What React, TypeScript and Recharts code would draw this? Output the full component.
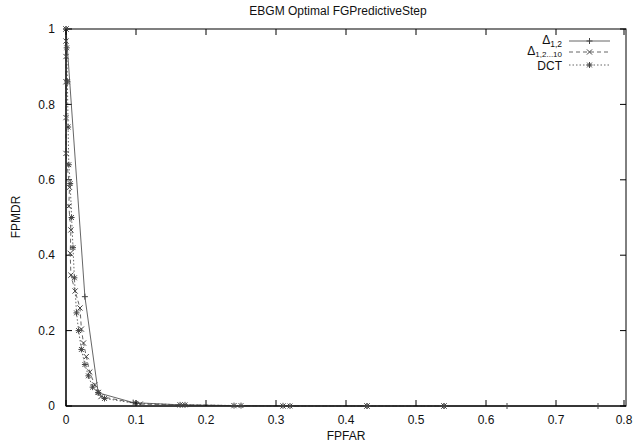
import React from 'react';
import { LineChart, Line, XAxis, YAxis, Customized } from 'recharts';

const xTicks = [0, 0.1, 0.2, 0.3, 0.4, 0.5, 0.6, 0.7, 0.8];
const yTicks = [0, 0.2, 0.4, 0.6, 0.8, 1];

const d12X = [0, 0.027, 0.046, 0.096, 0.163, 0.24, 0.31, 0.43, 0.54, 0.63, 0.76];
const d12Y = [1, 0.29, 0.035, 0.009, 0.003, 0.001, 0.0005, 0, 0, 0, 0];

const d1210X = [0, 0, 0, 0, 0, 0, 0.005, 0.004, 0.007, 0.006, 0.007, 0.013, 0.02, 0.022, 0.025, 0.029, 0.034, 0.041, 0.046, 0.05, 0.106, 0.163, 0.24, 0.31, 0.43, 0.54];
const d1210Y = [1, 0.968, 0.927, 0.86, 0.765, 0.67, 0.58, 0.53, 0.467, 0.405, 0.347, 0.305, 0.26, 0.204, 0.167, 0.131, 0.09, 0.056, 0.036, 0.025, 0.005, 0.003, 0.001, 0, 0, 0];

const dctX = [0, 0.001, 0.002, 0.003, 0.004, 0.006, 0.008, 0.01, 0.012, 0.015, 0.018, 0.022, 0.027, 0.032, 0.038, 0.046, 0.055, 0.1, 0.17, 0.25, 0.32, 0.43, 0.54];
const dctY = [1, 0.95, 0.86, 0.74, 0.64, 0.59, 0.5, 0.42, 0.34, 0.247, 0.2, 0.15, 0.11, 0.08, 0.05, 0.036, 0.02, 0.007, 0.003, 0.001, 0, 0, 0];

const zip = (xs: number[], ys: number[]) => xs.map((x, i) => ({ x, y: ys[i] }));
const d12 = zip(d12X, d12Y);
const d1210 = zip(d1210X, d1210Y);
const dct = zip(dctX, dctY);

const FONT = '"Liberation Sans", Arial, sans-serif';
const LINE = '#555';
const MARK = '#444';
const AXC = '#000';

// plot frame (layout constants)
const PL = 66, PR = 626, PT = 29, PB = 406;

const Plus = ({ cx, cy, s = 3 }: any) => (
  <path d={`M${cx - s},${cy}H${cx + s}M${cx},${cy - s}V${cy + s}`} stroke={MARK} strokeWidth={1} fill="none" />
);
const Cross = ({ cx, cy, s = 2.6 }: any) => (
  <path d={`M${cx - s},${cy - s}L${cx + s},${cy + s}M${cx - s},${cy + s}L${cx + s},${cy - s}`} stroke={MARK} strokeWidth={1} fill="none" />
);
const Star = ({ cx, cy }: any) => (
  <g>
    <Plus cx={cx} cy={cy} s={3} />
    <Cross cx={cx} cy={cy} s={2.4} />
  </g>
);

const mk = (C: any) => (p: any) => {
  if (p.cx == null || p.cy == null) return <g key={p.index} />;
  return <C key={p.index} cx={p.cx} cy={p.cy} />;
};

const XTick = (p: any) => (
  <g>
    <line x1={p.x} x2={p.x} y1={PB} y2={PB - 6} stroke={AXC} strokeWidth={1} />
    <line x1={p.x} x2={p.x} y1={PT} y2={PT + 6} stroke={AXC} strokeWidth={1} />
    <text x={p.x} y={PB + 18} textAnchor="middle" fontFamily={FONT} fontSize={12} fill="#111">{String(p.payload.value)}</text>
  </g>
);

const Frame = () => (
  <g>
    <rect x={PL} y={PT} width={PR - PL} height={PB - PT} fill="none" stroke={AXC} strokeWidth={1} />
    {yTicks.map((v) => {
      const y = PB - (v / 1) * (PB - PT);
      return (
        <g key={v}>
          <line x1={PL} x2={PL + 6} y1={y} y2={y} stroke={AXC} strokeWidth={1} />
          <line x1={PR} x2={PR - 6} y1={y} y2={y} stroke={AXC} strokeWidth={1} />
        </g>
      );
    })}
  </g>
);

const LegendBox = () => (
  <svg width={190} height={48} style={{ position: 'absolute', left: 440, top: 30, overflow: 'visible' }}>
    <g fontFamily={FONT} fontSize={12} fill="#111">
      <text x={122} y={14} textAnchor="end">
        <tspan>Δ</tspan>
        <tspan dy={3} fontSize={8.5}>1,2</tspan>
      </text>
      <line x1={129} x2={170} y1={11} y2={11} stroke={LINE} strokeWidth={0.9} />
      <Plus cx={149.5} cy={11} />
      <text x={122} y={25} textAnchor="end">
        <tspan>Δ</tspan>
        <tspan dy={2} fontSize={8}>1,2...10</tspan>
      </text>
      <line x1={129} x2={170} y1={22} y2={22} stroke={LINE} strokeWidth={0.9} strokeDasharray="4 3" />
      <Cross cx={149.5} cy={22} />
      <text x={122} y={40} textAnchor="end">DCT</text>
      <line x1={129} x2={170} y1={35} y2={35} stroke={LINE} strokeWidth={0.9} strokeDasharray="1.5 2" />
      <Star cx={149.5} cy={35} />
    </g>
  </svg>
);

const Labels = () => (
  <g fontFamily={FONT} fontSize={12} fill="#111">
    <text x={17} y={217} transform="rotate(-90 17 217)" textAnchor="middle" dominantBaseline="middle">FPMDR</text>
    <text x={346} y={437} textAnchor="middle" dominantBaseline="middle">FPFAR</text>
  </g>
);

export default function App() {
  return (
    <div style={{ position: 'absolute', left: 0, top: 0, width: 634, height: 448, background: '#fff' }}>
      <LineChart width={634} height={448} margin={{ top: 29, right: 8, left: 0, bottom: 0 }}>
        <XAxis
          type="number"
          dataKey="x"
          domain={[0, 0.8]}
          ticks={xTicks}
          height={42}
          tickLine={false}
          tick={<XTick />}
          axisLine={{ stroke: '#000' }}
        />
        <YAxis
          type="number"
          dataKey="y"
          domain={[0, 1]}
          ticks={yTicks}
          width={66}
          tickLine={false}
          tickMargin={5}
          tick={{ fill: '#111', fontFamily: FONT, fontSize: 12 }}
          axisLine={{ stroke: '#000' }}
        />
        <Customized component={Frame} />
        <Customized component={Labels} />
        <Line data={d12} dataKey="y" name="Δ1,2" type="linear" stroke={LINE} strokeWidth={0.9} dot={mk(Plus)} activeDot={false} isAnimationActive={false} />
        <Line data={d1210} dataKey="y" name="Δ1,2...10" type="linear" stroke={LINE} strokeWidth={0.9} strokeDasharray="4 3" dot={mk(Cross)} activeDot={false} isAnimationActive={false} />
        <Line data={dct} dataKey="y" name="DCT" type="linear" stroke={LINE} strokeWidth={0.9} strokeDasharray="1.5 2" dot={mk(Star)} activeDot={false} isAnimationActive={false} />
      </LineChart>
      <LegendBox />
      <div style={{ position: 'absolute', left: 0, top: 4, width: 634, paddingLeft: 42, boxSizing: 'border-box', textAlign: 'center', fontFamily: FONT, fontSize: 12, color: '#111', pointerEvents: 'none' }}>
        EBGM Optimal FGPredictiveStep
      </div>
    </div>
  );
}
